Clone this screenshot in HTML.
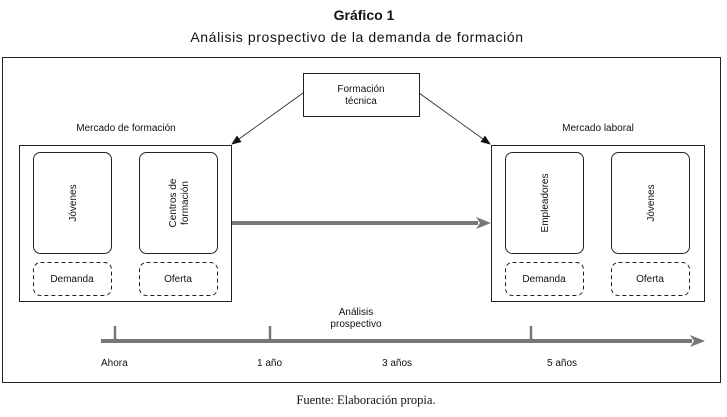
<!DOCTYPE html>
<html><head><meta charset="utf-8"><style>
body{margin:0;background:#fff;}
svg text{font-family:"Liberation Sans",sans-serif;fill:#111;}
</style></head><body>
<svg width="727" height="412" viewBox="0 0 727 412" xmlns="http://www.w3.org/2000/svg">
<defs>
<marker id="a" markerWidth="10" markerHeight="8" refX="9" refY="4" orient="auto" markerUnits="userSpaceOnUse"><path d="M0,0 L10,4 L0,8 Z" fill="#111"/></marker>
</defs>
<text x="364" y="20" text-anchor="middle" font-size="14" font-weight="bold">Gráfico 1</text>
<text x="357" y="42" text-anchor="middle" font-size="14" letter-spacing="0.6">Análisis  prospectivo  de  la  demanda  de  formación</text>
<rect x="2.5" y="57.5" width="718" height="325" fill="none" stroke="#222" stroke-width="1"/>
<rect x="303.5" y="73.5" width="116" height="43" fill="#fff" stroke="#222"/>
<text x="361" y="92" text-anchor="middle" font-size="10">Formación</text>
<text x="361" y="104" text-anchor="middle" font-size="10">técnica</text>
<line x1="303" y1="93" x2="232" y2="144" stroke="#222" stroke-width="0.8" marker-end="url(#a)"/>
<line x1="419" y1="93" x2="490" y2="144" stroke="#222" stroke-width="0.8" marker-end="url(#a)"/>
<text x="126" y="131" text-anchor="middle" font-size="10">Mercado de formación</text>
<text x="598" y="131" text-anchor="middle" font-size="10">Mercado laboral</text>
<g fill="none" stroke="#222">
<rect x="19.5" y="145.5" width="212" height="156"/>
<rect x="491.5" y="145.5" width="213" height="156"/>
<rect x="33.5" y="152.5" width="78" height="101" rx="7"/>
<rect x="139.5" y="152.5" width="78" height="101" rx="7"/>
<rect x="505.5" y="152.5" width="78" height="101" rx="7"/>
<rect x="611.5" y="152.5" width="78" height="101" rx="7"/>
<g stroke-dasharray="4,3">
<rect x="33.5" y="262.5" width="78" height="33" rx="7"/>
<rect x="139.5" y="262.5" width="78" height="33" rx="7"/>
<rect x="505.5" y="262.5" width="78" height="33" rx="7"/>
<rect x="611.5" y="262.5" width="78" height="33" rx="7"/>
</g></g>
<text transform="translate(76,203) rotate(-90)" text-anchor="middle" font-size="10">Jóvenes</text>
<text transform="translate(176,203) rotate(-90)" text-anchor="middle" font-size="10">Centros de</text>
<text transform="translate(188,203) rotate(-90)" text-anchor="middle" font-size="10">formación</text>
<text transform="translate(548,203) rotate(-90)" text-anchor="middle" font-size="10">Empleadores</text>
<text transform="translate(654,203) rotate(-90)" text-anchor="middle" font-size="10">Jóvenes</text>
<text x="72" y="282" text-anchor="middle" font-size="10">Demanda</text>
<text x="178" y="282" text-anchor="middle" font-size="10">Oferta</text>
<text x="544" y="282" text-anchor="middle" font-size="10">Demanda</text>
<text x="650" y="282" text-anchor="middle" font-size="10">Oferta</text>
<line x1="232" y1="223" x2="478" y2="223" stroke="#777" stroke-width="4"/>
<path d="M476,217 L491,223 L476,229 L480,223 Z" fill="#777"/>
<line x1="101" y1="341" x2="692" y2="341" stroke="#777" stroke-width="4"/>
<path d="M690,335 L705,341 L690,347 L694,341 Z" fill="#777"/>
<g stroke="#777" stroke-width="2.5">
<line x1="115" y1="326" x2="115" y2="341"/>
<line x1="270" y1="326" x2="270" y2="341"/>
<line x1="531" y1="326" x2="531" y2="341"/>
</g>
<text x="356" y="315" text-anchor="middle" font-size="10">Análisis</text>
<text x="356" y="327" text-anchor="middle" font-size="10">prospectivo</text>
<text x="101" y="366" font-size="10">Ahora</text>
<text x="257" y="366" font-size="10">1 año</text>
<text x="382" y="366" font-size="10">3 años</text>
<text x="547" y="366" font-size="10">5 años</text>
<text x="366" y="404" text-anchor="middle" font-size="12.5" style="font-family:'Liberation Serif',serif">Fuente: Elaboración propia.</text>
</svg>
</body></html>
